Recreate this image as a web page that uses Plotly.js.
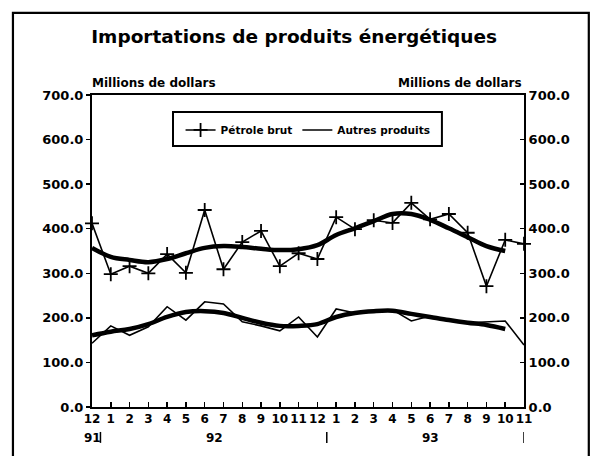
<!DOCTYPE html>
<html>
<head>
<meta charset="utf-8">
<script src="https://cdn.plot.ly/plotly-3.0.1.min.js"></script>
<style>html,body{margin:0;padding:0;background:#fff;}#chart{width:593px;height:456px;}</style>
</head>
<body>
<div id="chart"></div>
<script>
// Months Dec 1991 .. Nov 1993
var monthLabels = ["12","1","2","3","4","5","6","7","8","9","10","11","12","1","2","3","4","5","6","7","8","9","10","11"];
var monthIndex = [0,1,2,3,4,5,6,7,8,9,10,11,12,13,14,15,16,17,18,19,20,21,22,23];
// Pétrole brut (millions de dollars)
var petroleBrut = [412,298,316,300,343,301,442,309,370,395,316,345,332,426,399,419,413,458,421,433,391,271,375,366];
// Pétrole brut trend
var petroleTrend = [357,337,330,325,332,345,357,361,359,355,352,354,363,386,401,417,433,433,420,401,381,361,350];
// Autres produits
var autresProduits = [143,182,161,180,225,195,236,231,191,182,171,202,157,220,211,213,218,193,204,195,189,191,193,139];
// Autres produits trend
var autresTrend = [161,169,175,186,202,213,215,211,200,189,182,182,186,202,211,215,216,209,202,195,189,184,175];
var yTicks = [0,100,200,300,400,500,600,700];
var yearLabels = ["91","92","93"];
var yearPos = [0,6.5,18];
var yearSeps = [0.45,12.5,23];

var F = "DejaVu Sans";
var trendX = monthIndex.slice(0, petroleTrend.length);

var traces = [
  {x: monthIndex, y: petroleBrut, name: "Pétrole brut", type: "scatter", mode: "lines+markers",
   line: {color: "#000", width: 1.6},
   marker: {symbol: "cross-thin", size: 10, line: {color: "#000", width: 1.8}},
   cliponaxis: false},
  {x: monthIndex, y: autresProduits, name: "Autres produits", type: "scatter", mode: "lines",
   line: {color: "#000", width: 1.6}, cliponaxis: false},
  {x: trendX, y: petroleTrend, type: "scatter", mode: "lines", showlegend: false,
   line: {color: "#000", width: 4.5, shape: "spline"}, hoverinfo: "skip"},
  {x: trendX, y: autresTrend, type: "scatter", mode: "lines", showlegend: false,
   line: {color: "#000", width: 4.5, shape: "spline"}, hoverinfo: "skip"},
  {x: [0], y: [0], yaxis: "y2", type: "scatter", mode: "markers", showlegend: false,
   marker: {opacity: 0}, hoverinfo: "skip"}
];

var annotations = [
  {text: "Millions de dollars", xref: "paper", yref: "paper", x: -0.005, y: 1.01, xanchor: "left", yanchor: "bottom",
   showarrow: false, font: {family: F, size: 12, color: "#000", weight: "bold"}},
  {text: "Millions de dollars", xref: "paper", yref: "paper", x: 1.0, y: 1.01, xanchor: "right", yanchor: "bottom",
   showarrow: false, font: {family: F, size: 12, color: "#000", weight: "bold"}}
];
for (var i = 0; i < yearLabels.length; i++) {
  annotations.push({text: yearLabels[i], xref: "x", yref: "paper", x: yearPos[i], y: -0.1, yanchor: "middle",
    showarrow: false, font: {family: F, size: 12, color: "#000", weight: "bold"}});
}
var shapes = [];
for (var j = 0; j < yearSeps.length; j++) {
  shapes.push({type: "line", xref: "x", yref: "paper", x0: yearSeps[j], x1: yearSeps[j], y0: -0.08, y1: -0.115,
    line: {color: "#000", width: 1.5}});
}
shapes.push({type: "rect", xref: "paper", yref: "paper", x0: -0.183, x1: 1.15, y0: -0.2, y1: 1.263,
  line: {color: "#000", width: 2.2}});
// legend frame
shapes.push({type: "rect", xref: "paper", yref: "paper", x0: 0.1875, x1: 0.81, y0: 0.8365, y1: 0.9455,
  line: {color: "#000", width: 2}, fillcolor: "#fff", layer: "below"});

var layout = {
  width: 593, height: 456,
  margin: {l: 92, r: 69, t: 95, b: 49},
  paper_bgcolor: "#fff", plot_bgcolor: "#fff",
  font: {family: F, color: "#000"},
  title: {text: "Importations de produits énergétiques", x: 0.496, xanchor: "center", y: 0.92, yanchor: "middle",
          font: {family: F, size: 18.5, color: "#000", weight: "bold"}},
  showlegend: true,
  legend: {orientation: "h", x: 0.205, y: 0.888, xanchor: "left", yanchor: "middle",
           borderwidth: 0, bgcolor: "rgba(0,0,0,0)", itemwidth: 30,
           font: {family: F, size: 10.5, color: "#000", weight: "bold"}},
  xaxis: {range: [0, 23], tickvals: monthIndex, ticktext: monthLabels, ticks: "inside", ticklen: 5,
          tickwidth: 1.5, tickcolor: "#000", showline: true, linecolor: "#000", linewidth: 2, mirror: true,
          showgrid: false, zeroline: false, tickangle: 0,
          tickfont: {family: F, size: 12, color: "#000", weight: "bold"}},
  yaxis: {range: [0, 700], tickvals: yTicks, tickformat: ".1f", ticks: "outside", ticklen: 4, tickwidth: 1.5,
          tickcolor: "#000", showline: true, linecolor: "#000", linewidth: 2, showgrid: false, zeroline: false,
          tickfont: {family: F, size: 13, color: "#000", weight: "bold"}},
  yaxis2: {range: [0, 700], tickvals: yTicks, tickformat: ".1f", overlaying: "y", side: "right", ticks: "inside",
           ticklen: 4, tickwidth: 1.5, tickcolor: "#000", showline: true, linecolor: "#000", linewidth: 2,
           showgrid: false, zeroline: false,
           tickfont: {family: F, size: 13, color: "#000", weight: "bold"}},
  annotations: annotations,
  shapes: shapes
};

Plotly.newPlot("chart", traces, layout, {displayModeBar: false, staticPlot: true});
</script>
</body>
</html>
